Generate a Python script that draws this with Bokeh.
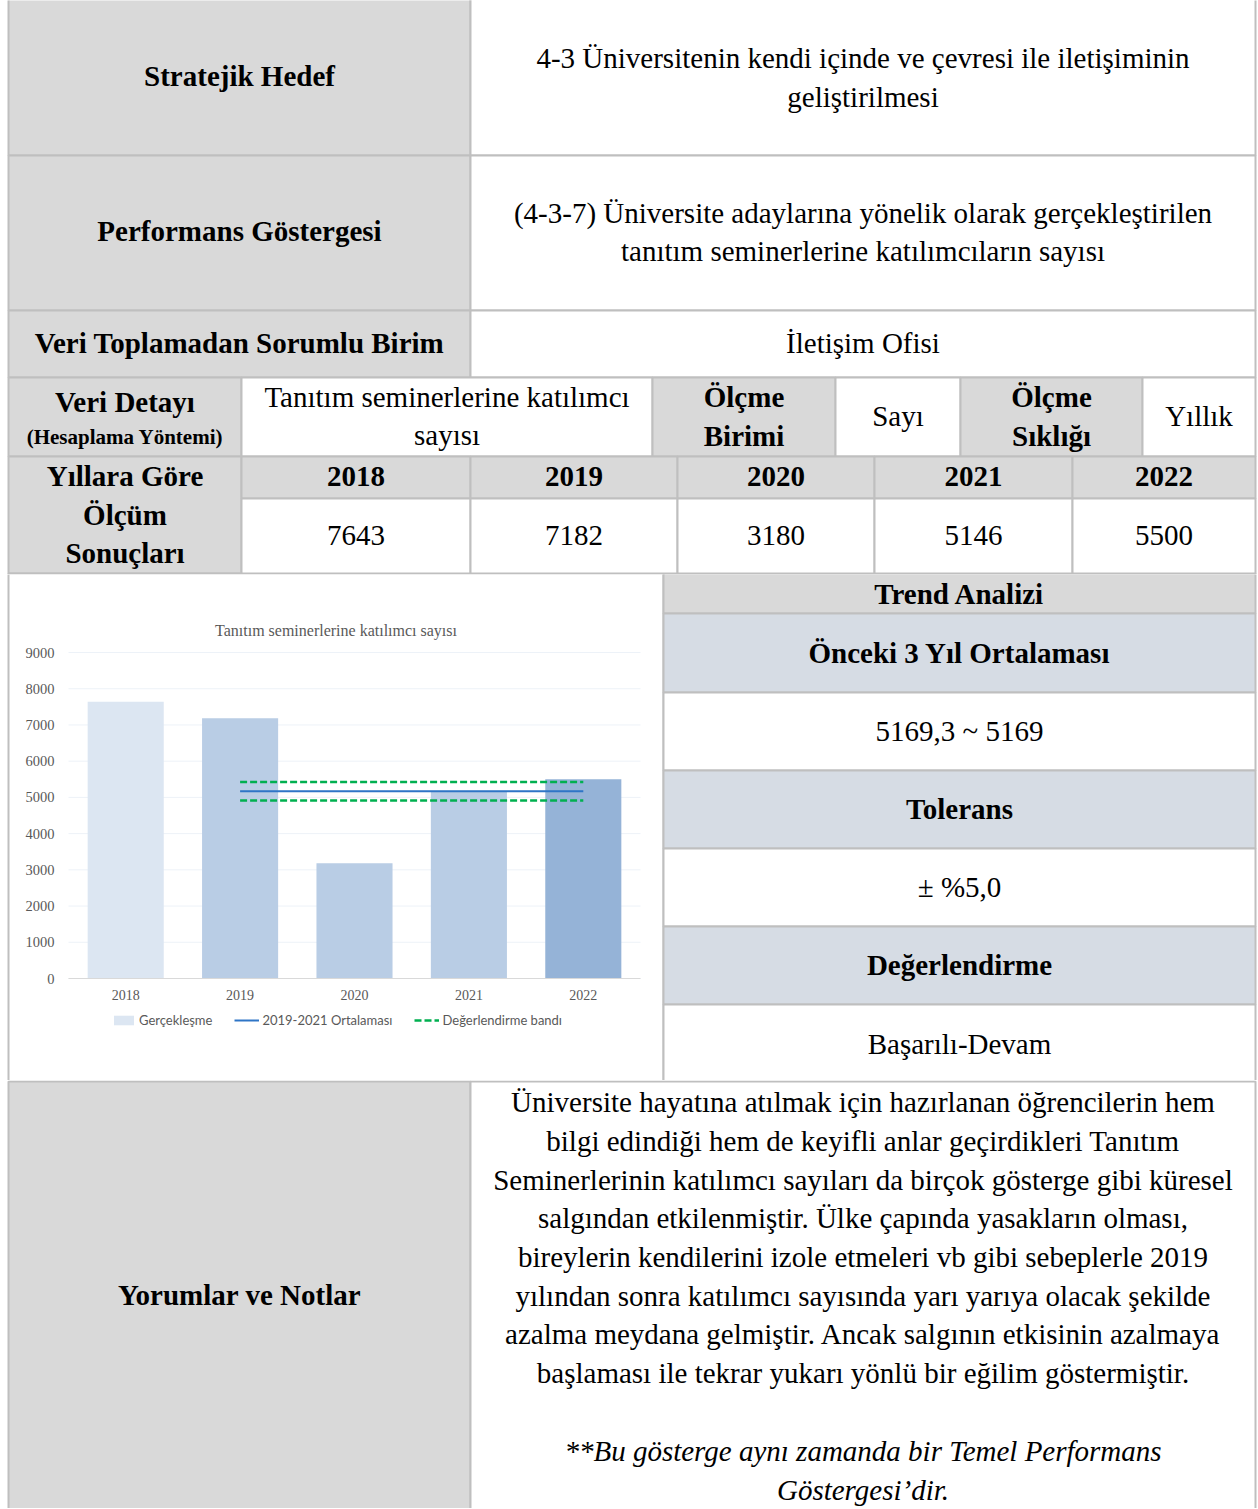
import numpy as np
from bokeh.plotting import figure
from bokeh.models import (ColumnDataSource, Range1d, Legend, LegendItem, FixedTicker, LinearAxis)
from bokeh.layouts import column
from bokeh.core.properties import value
from bokeh.embed import file_html
from bokeh.resources import INLINE

# ---------------- data ----------------
years = ["2018", "2019", "2020", "2021", "2022"]
values = [7643, 7182, 3180, 5146, 5500]
bar_colors = ["#dce6f2", "#b9cde5", "#b9cde5", "#b9cde5", "#95b3d7"]
avg_years = ["2019", "2020", "2021"]          # years averaged
line_years = ["2019", "2020", "2021", "2022"]  # span of average / band lines
tolerance_pct = 5.0
y_ticks = [0, 1000, 2000, 3000, 4000, 5000, 6000, 7000, 8000, 9000]

chart_title = "Tanıtım seminerlerine katılımcı sayısı"
legend_labels = ["Gerçekleşme", "2019-2021 Ortalaması", "Değerlendirme bandı"]

hedef_label = "Stratejik Hedef"
hedef_text = ["4-3 Üniversitenin kendi içinde ve çevresi ile iletişiminin", "geliştirilmesi"]
gosterge_label = "Performans Göstergesi"
gosterge_text = ["(4-3-7) Üniversite adaylarına yönelik olarak gerçekleştirilen",
                 "tanıtım seminerlerine katılımcıların sayısı"]
birim_label = "Veri Toplamadan Sorumlu Birim"
birim_text = "İletişim Ofisi"
detay_label = ["Veri Detayı", "(Hesaplama Yöntemi)"]
detay_text = ["Tanıtım seminerlerine katılımcı", "sayısı"]
olcme_birimi = ["Ölçme", "Birimi"]
olcme_birimi_val = "Sayı"
olcme_sikligi = ["Ölçme", "Sıklığı"]
olcme_sikligi_val = "Yıllık"
yillar_label = ["Yıllara Göre", "Ölçüm", "Sonuçları"]
trend_labels = ["Trend Analizi", "Önceki 3 Yıl Ortalaması", "Tolerans", "Değerlendirme"]
degerlendirme_val = "Başarılı-Devam"
yorum_label = "Yorumlar ve Notlar"
yorum_lines = [
    "Üniversite hayatına atılmak için hazırlanan öğrencilerin hem",
    "bilgi edindiği hem de keyifli anlar geçirdikleri Tanıtım",
    "Seminerlerinin katılımcı sayıları da birçok gösterge gibi küresel",
    "salgından etkilenmiştir. Ülke çapında yasakların olması,",
    "bireylerin kendilerini izole etmeleri vb gibi sebeplerle 2019",
    "yılından sonra katılımcı sayısında yarı yarıya olacak şekilde",
    "azalma meydana gelmiştir. Ancak salgının etkisinin azalmaya",
    "başlaması ile tekrar yukarı yönlü bir eğilim göstermiştir.",
]
yorum_italic = ["**Bu gösterge aynı zamanda bir Temel Performans", "Göstergesi’dir."]

avg = float(np.mean([values[years.index(y)] for y in avg_years]))
band_hi = avg * (1 + tolerance_pct / 100)
band_lo = avg * (1 - tolerance_pct / 100)
avg_text = f"{avg:.1f}".replace(".", ",") + " ~ " + f"{round(avg)}"
tol_text = "± %" + f"{tolerance_pct:.1f}".replace(".", ",")

# ---------------- styles / page geometry ----------------
SERIF = "Liberation Serif"
GRAY = "#d9d9d9"
BLUEG = "#d6dce4"
WHITE = "#ffffff"
BORDER = "#bfbfbf"
FS = "29px"
W = 1258
TOP_Y1, MID_Y1, BOT_Y1 = 574, 1080, 1508


def tfig(ry0, ry1):
    p = figure(width=W, height=int(ry1 - ry0), x_range=Range1d(0, W),
               y_range=Range1d(ry1, ry0), output_backend="svg", toolbar_location=None,
               min_border=0, x_axis_location=None, y_axis_location=None)
    p.grid.visible = False
    p.outline_line_color = None
    p.background_fill_color = WHITE
    p.border_fill_color = WHITE
    return p


def cells(p, spec, **kw):
    p.quad(left=[c[0] for c in spec], right=[c[1] for c in spec],
           top=[c[2] for c in spec], bottom=[c[3] for c in spec],
           fill_color=[c[4] for c in spec], line_color=BORDER, line_width=2, **kw)


def texts(p, items, size=FS, style="normal", color="black", **kw):
    p.text(x=[t[0] for t in items], y=[t[1] for t in items],
           text=[t[2] for t in items], text_font=value(SERIF),
           text_font_size=value(size), text_font_style=value(style),
           text_align="center", text_baseline="middle", text_color=color, **kw)


# ---------------- top table ----------------
top = tfig(0, TOP_Y1)
year_cols = [(241, 470), (470, 677), (677, 874), (874, 1072), (1072, 1255)]
spec = [
    (8, 470, -5, 155, GRAY), (470, 1255, -5, 155, WHITE),
    (8, 470, 155, 310, GRAY), (470, 1255, 155, 310, WHITE),
    (8, 470, 310, 377, GRAY), (470, 1255, 310, 377, WHITE),
    (8, 241, 377, 456, GRAY), (241, 652, 377, 456, WHITE), (652, 835, 377, 456, GRAY),
    (835, 960, 377, 456, WHITE), (960, 1142, 377, 456, GRAY), (1142, 1255, 377, 456, WHITE),
    (8, 241, 456, 573, GRAY),
    (8, 663, 573, 700, WHITE), (663, 1255, 573, 613, GRAY),
]
spec += [(a, b, 456, 498, GRAY) for a, b in year_cols]
spec += [(a, b, 498, 573, WHITE) for a, b in year_cols]
cells(top, spec)

bold_items = [
    (239, 75, hedef_label), (239, 230, gosterge_label), (239, 342, birim_label),
    (124.5, 401, detay_label[0]),
    (743.5, 396, olcme_birimi[0]), (743.5, 435, olcme_birimi[1]),
    (1051, 396, olcme_sikligi[0]), (1051, 435, olcme_sikligi[1]),
    (124.5, 475, yillar_label[0]), (124.5, 514, yillar_label[1]), (124.5, 552, yillar_label[2]),
]
bold_items += [((a + b) / 2, 476, y) for (a, b), y in zip(year_cols, years)]
texts(top, bold_items, style="bold")
texts(top, [(124.5, 436, detay_label[1])], size="21px", style="bold")

reg_items = [
    (862.5, 57, hedef_text[0]), (862.5, 96, hedef_text[1]),
    (862.5, 212, gosterge_text[0]), (862.5, 250, gosterge_text[1]),
    (862.5, 342, birim_text),
    (446.5, 396, detay_text[0]), (446.5, 434, detay_text[1]),
    (897.5, 415, olcme_birimi_val), (1198.5, 415, olcme_sikligi_val),
]
reg_items += [((a + b) / 2, 535, str(v)) for (a, b), v in zip(year_cols, values)]
texts(top, reg_items)

# ---------------- middle: chart + trend ----------------
PLOT_L, PLOT_R, PLOT_T, PLOT_B = 68, 640, 652, 978   # chart plotting area on the page
YMAX = 9000
n = len(years)
cat_w = (PLOT_R - PLOT_L) / n
ppu = (PLOT_B - PLOT_T) / YMAX
x_lo = -0.5 - PLOT_L / cat_w
x_hi = x_lo + W / cat_w
y_lo = -(MID_Y1 - PLOT_B) / ppu
y_hi = YMAX + (PLOT_T - TOP_Y1) / ppu

mid = figure(width=W, height=MID_Y1 - TOP_Y1, x_range=Range1d(x_lo, x_hi),
             y_range=Range1d(y_lo, y_hi), output_backend="svg", toolbar_location=None,
             min_border=0, x_axis_location=None, y_axis_location=None)
mid.grid.visible = False
mid.outline_line_color = None
mid.background_fill_color = WHITE
mid.border_fill_color = WHITE
mid.extra_x_ranges = {"px": Range1d(0, W)}
mid.extra_y_ranges = {"px": Range1d(MID_Y1, TOP_Y1)}
PX = dict(x_range_name="px", y_range_name="px")

tr_rows = [(573, 613, GRAY), (613, 692, BLUEG), (692, 770, WHITE), (770, 848, BLUEG),
           (848, 926, WHITE), (926, 1004, BLUEG), (1004, 1081, WHITE)]
cells(mid, [(8, 663, 573, 1081, WHITE)] + [(663, 1255, a, b, c) for a, b, c in tr_rows], **PX)

xpos = list(range(n))
edge_lo, edge_hi = -0.5, n - 0.5
mid.segment(x0=[edge_lo] * len(y_ticks), x1=[edge_hi] * len(y_ticks), y0=y_ticks, y1=y_ticks,
            line_color="#edf2f8", line_width=1)

src = ColumnDataSource(dict(x=xpos, top=values, color=bar_colors))
bars = mid.vbar(x="x", top="top", width=0.665, fill_color="color", line_color=None, source=src)
lx = [years.index(y) for y in line_years]
avg_line = mid.line(x=lx, y=[avg] * len(lx), line_color="#2e75c6", line_width=2)
band = mid.multi_line(xs=[lx, lx], ys=[[band_hi] * len(lx), [band_lo] * len(lx)],
                      line_color="#00b050", line_width=2.5, line_dash="7 3")

ya = LinearAxis(fixed_location=edge_lo, ticker=FixedTicker(ticks=y_ticks))
ya.axis_line_color = None
ya.major_tick_line_color = None
ya.minor_tick_line_color = None
ya.major_label_text_font = SERIF
ya.major_label_text_font_size = "14.5px"
ya.major_label_text_color = "#595959"
ya.major_label_standoff = 8
mid.add_layout(ya, "left")

xa = LinearAxis(fixed_location=0, ticker=FixedTicker(ticks=xpos),
                major_label_overrides={i: y for i, y in zip(xpos, years)},
                bounds=(edge_lo, edge_hi))
xa.axis_line_color = "#d9d9d9"
xa.axis_line_width = 1
xa.major_tick_line_color = None
xa.minor_tick_line_color = None
xa.major_label_text_font = SERIF
xa.major_label_text_font_size = "14px"
xa.major_label_text_color = "#595959"
xa.major_label_standoff = 5
mid.add_layout(xa, "below")

mid.text(x=[335.5], y=[630], text=[chart_title], text_font=value(SERIF),
         text_font_size=value("16px"), text_color="#595959", text_align="center",
         text_baseline="middle", **PX)

legend = Legend(items=[
    LegendItem(label=legend_labels[0], renderers=[bars], index=0),
    LegendItem(label=legend_labels[1], renderers=[avg_line]),
    LegendItem(label=legend_labels[2], renderers=[band]),
], orientation="horizontal", location=(111, 50), glyph_width=25, glyph_height=12,
    label_standoff=3, spacing=22, padding=0, margin=0, border_line_color=None,
    background_fill_alpha=0, label_text_font="Lato", label_text_font_size="13px",
    label_text_color="#595959", label_height=20)
mid.add_layout(legend)

texts(mid, [(959, 593, trend_labels[0]), (959, 652, trend_labels[1]),
            (959, 808, trend_labels[2]), (959, 964, trend_labels[3])], style="bold", **PX)
texts(mid, [(959, 730, avg_text), (959, 886, tol_text), (959, 1043, degerlendirme_val)], **PX)

# ---------------- bottom ----------------
bottom = tfig(MID_Y1, BOT_Y1)
cells(bottom, [(8, 470, 1081, 1530, GRAY), (470, 1255, 1081, 1530, WHITE)])
texts(bottom, [(239, 1294, yorum_label)], style="bold")
para_y = [1101, 1140, 1179, 1217, 1256, 1295, 1333, 1372]
texts(bottom, [(862.5, y, t) for y, t in zip(para_y, yorum_lines)])
texts(bottom, [(862.5, 1450, yorum_italic[0]), (862.5, 1489, yorum_italic[1])], style="italic")

layout = column(top, mid, bottom, spacing=0)

open("out.html", "w").write(file_html(layout, INLINE))
